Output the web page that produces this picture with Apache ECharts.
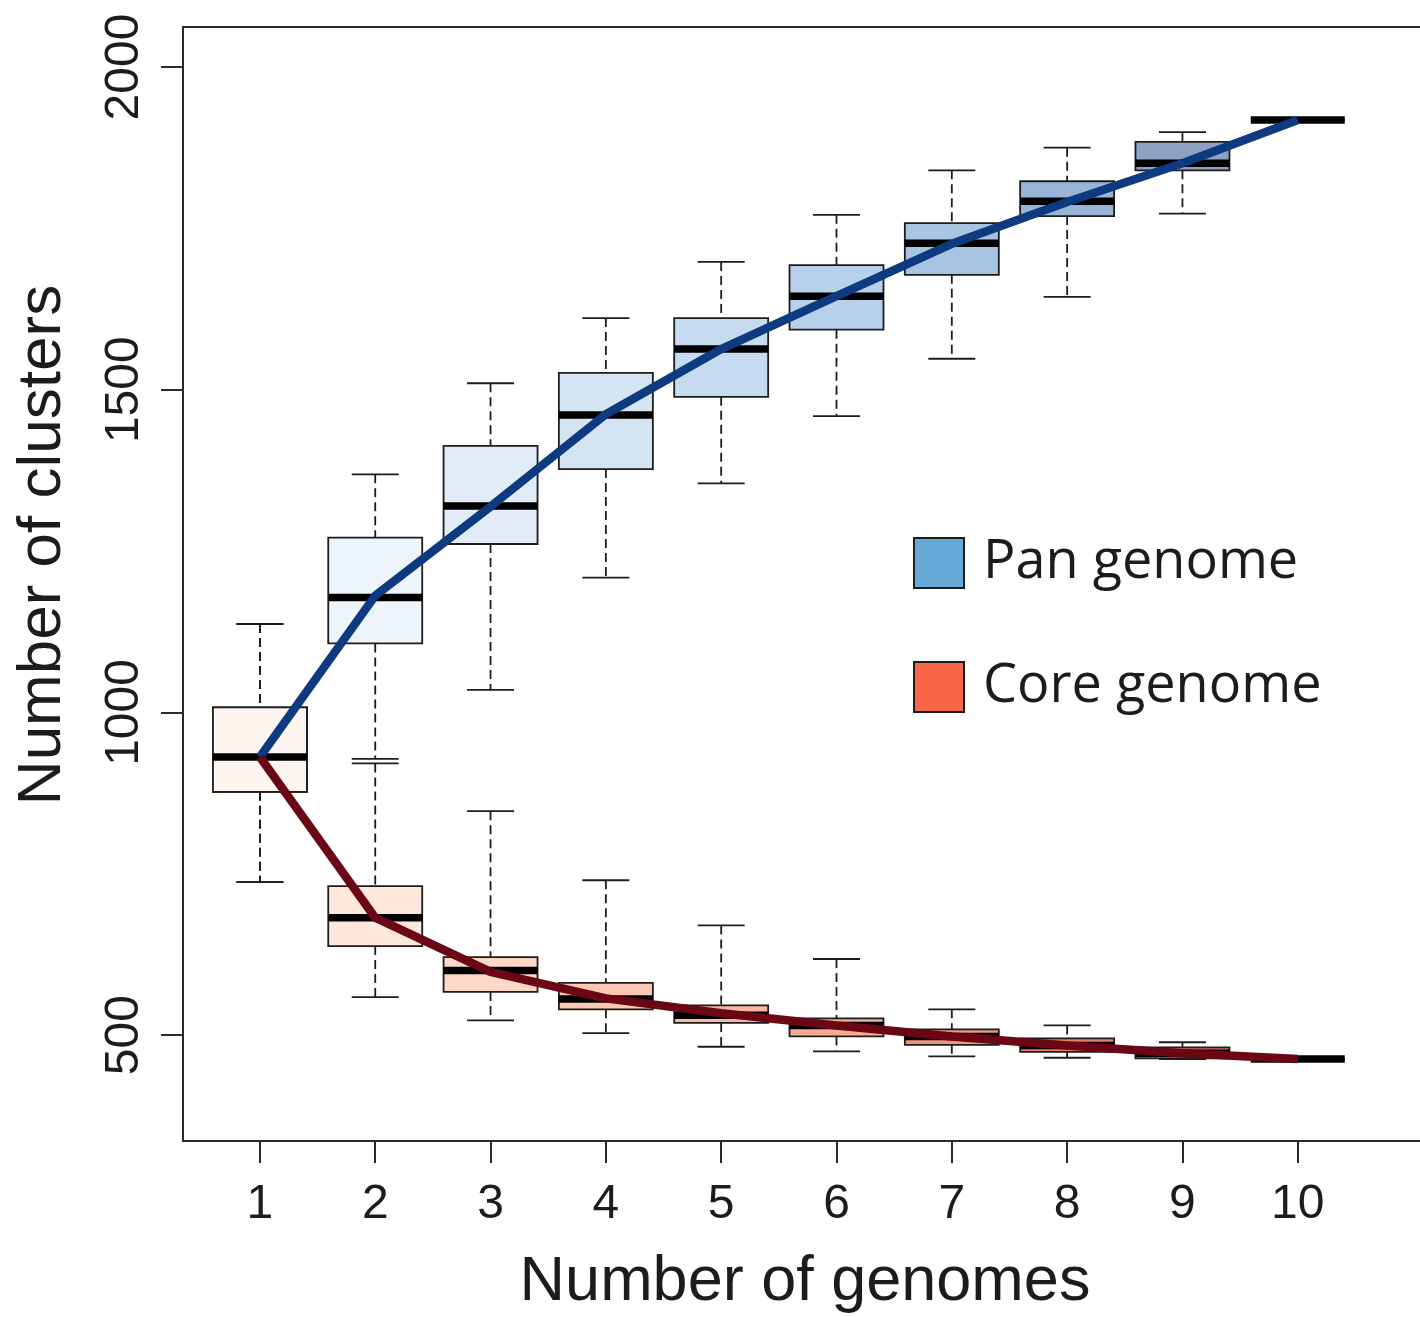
<!DOCTYPE html>
<html>
<head>
<meta charset="utf-8">
<title>Pan and core genome</title>
<script src="https://cdn.jsdelivr.net/npm/echarts@6/dist/echarts.min.js"></script>
<style>
  html, body { margin: 0; padding: 0; background: #ffffff; }
  #chart { width: 1420px; height: 1317px; }
</style>
</head>
<body>
<div id="chart"></div>
<script>
// Number of genomes sampled
const genomes = [1, 2, 3, 4, 5, 6, 7, 8, 9, 10];

// Pan genome: box-plot summaries (whisker ends, quartiles, median)
const panMin    = [737,  928, 1035, 1209, 1355, 1459, 1548, 1644, 1773, 1918];
const panQ1     = [877, 1107, 1261, 1377, 1489, 1593, 1678, 1769, 1840, 1918];
const panMedian = [931, 1178, 1320, 1461, 1563, 1645, 1727, 1792, 1851, 1918];
const panQ3     = [1008, 1271, 1413, 1526, 1611, 1693, 1758, 1823, 1884, 1918];
const panMax    = [1137, 1369, 1510, 1611, 1698, 1771, 1840, 1875, 1899, 1918];
const panMean   = [931, 1181, 1319, 1462, 1563, 1645, 1726, 1791, 1851, 1918];

// Core genome: box-plot summaries
const coreMin    = [737, 559, 523, 503, 482, 475, 467, 465, 463, 463];
const coreQ1     = [877, 638, 567, 540, 519, 498, 485, 474, 464, 463];
const coreMedian = [931, 682, 600, 556, 531, 515, 498, 484, 472, 463];
const coreQ3     = [1008, 731, 621, 581, 546, 526, 509, 495, 481, 463];
const coreMax    = [1137, 921, 847, 740, 670, 618, 540, 515, 489, 463];
const coreMean   = [931, 682, 598, 557, 534, 515, 498, 484, 472, 463];

// Axis tick values
const xTicks = [1, 2, 3, 4, 5, 6, 7, 8, 9, 10];
const yTicks = [500, 1000, 1500, 2000];

// Box fill ramps
const panFills  = ['#fff5f0', '#eef4fb', '#e1ecf7', '#d4e4f3', '#c6dbef',
                   '#b6d1e9', '#a7c5e2', '#98b4d6', '#8ea1c2', '#8390b0'];
const coreFills = ['#fff5f0', '#fee8de', '#fdd7c7', '#fcc7b3', '#f9b8a2',
                   '#f6aa93', '#ef9580', '#e47f6a', '#d66b58', '#c45848'];

const TEXT_FONT = '"Liberation Sans", Arial, Helvetica, sans-serif';
const LEGEND_FONT = '"Open Sans", "Noto Sans", sans-serif';
const INK = '#1c1c1c';
const FRAME = '#2a2a2a';

function boxRows(mins, q1s, meds, q3s, maxs) {
  return genomes.map((g, i) => [g, mins[i], q1s[i], meds[i], q3s[i], maxs[i]]);
}

// Draws an R-style box: dashed whiskers with caps, outlined box, heavy median bar
function boxRenderer(fills) {
  return function (params, api) {
    const x = api.value(0);
    const pMin = api.coord([x, api.value(1)]);
    const pQ1  = api.coord([x, api.value(2)]);
    const pMed = api.coord([x, api.value(3)]);
    const pQ3  = api.coord([x, api.value(4)]);
    const pMax = api.coord([x, api.value(5)]);
    const unit = api.size([1, 0])[0];
    const bw = unit * 0.815;
    const cw = bw / 2;
    const cx = pMed[0];
    const thin = { stroke: INK, lineWidth: 1.8 };
    const dashed = { stroke: INK, lineWidth: 1.8, lineDash: [9, 5] };
    return {
      type: 'group',
      children: [
        { type: 'line', shape: { x1: cx, y1: pMax[1], x2: cx, y2: pQ3[1] }, style: dashed },
        { type: 'line', shape: { x1: cx, y1: pQ1[1], x2: cx, y2: pMin[1] }, style: dashed },
        { type: 'line', shape: { x1: cx - cw / 2, y1: pMax[1], x2: cx + cw / 2, y2: pMax[1] }, style: thin },
        { type: 'line', shape: { x1: cx - cw / 2, y1: pMin[1], x2: cx + cw / 2, y2: pMin[1] }, style: thin },
        { type: 'rect',
          shape: { x: cx - bw / 2, y: pQ3[1], width: bw, height: pQ1[1] - pQ3[1] },
          style: { fill: fills[params.dataIndex], stroke: INK, lineWidth: 1.8 } },
        { type: 'line', shape: { x1: cx - bw / 2, y1: pMed[1], x2: cx + bw / 2, y2: pMed[1] },
          style: { stroke: '#000000', lineWidth: 7.5 } }
      ]
    };
  };
}

const chart = echarts.init(document.getElementById('chart'), null, { renderer: 'canvas' });

chart.setOption({
  animation: false,
  backgroundColor: '#ffffff',
  grid: { left: 183, top: 27, right: 0, bottom: 176, show: false },
  xAxis: [
    {
      type: 'value', position: 'bottom',
      min: 0.333, max: 11.06,
      splitLine: { show: false },
      axisLine: { show: true, lineStyle: { color: FRAME, width: 2 } },
      axisTick: { show: true, length: 22, customValues: xTicks, lineStyle: { color: FRAME, width: 2 } },
      axisLabel: {
        customValues: xTicks, margin: 40,
        formatter: v => String(v),
        fontFamily: TEXT_FONT, fontSize: 48, color: INK
      }
    },
    {
      // top edge of the plot frame
      type: 'value', position: 'top',
      min: 0.333, max: 11.06,
      splitLine: { show: false },
      axisLine: { show: true, lineStyle: { color: FRAME, width: 2 } },
      axisTick: { show: false },
      axisLabel: { show: false }
    }
  ],
  yAxis: {
    type: 'value',
    min: 336, max: 2062,
    splitLine: { show: false },
    axisLine: { show: true, lineStyle: { color: FRAME, width: 2 } },
    axisTick: { show: true, length: 22, customValues: yTicks, lineStyle: { color: FRAME, width: 2 } },
    axisLabel: {
      customValues: yTicks, rotate: 90, margin: 34,
      formatter: v => String(v),
      fontFamily: TEXT_FONT, fontSize: 48, color: INK
    }
  },
  legend: {
    orient: 'vertical',
    left: 908, top: 531,
    itemWidth: 50, itemHeight: 50, itemGap: 70,
    selectedMode: false,
    icon: 'rect',
    textStyle: { fontFamily: LEGEND_FONT, fontSize: 54, color: INK, lineHeight: 50, padding: [0, 0, 0, 14] },
    data: [
      { name: 'Pan genome', itemStyle: { color: '#64a8d6', borderColor: INK, borderWidth: 2 } },
      { name: 'Core genome', itemStyle: { color: '#f8664a', borderColor: INK, borderWidth: 2 } }
    ]
  },
  graphic: [
    {
      type: 'text', x: 43, y: 545, rotation: Math.PI / 2,
      style: { text: 'Number of clusters', font: '62px ' + TEXT_FONT, fill: INK,
               textAlign: 'center', textVerticalAlign: 'middle' }
    },
    {
      type: 'text', x: 805, y: 1283,
      style: { text: 'Number of genomes', font: '63px ' + TEXT_FONT, fill: INK,
               textAlign: 'center', textVerticalAlign: 'middle' }
    }
  ],
  series: [
    {
      name: 'Pan genome', type: 'custom', z: 2,
      encode: { x: 0, y: [1, 2, 3, 4, 5] },
      renderItem: boxRenderer(panFills),
      itemStyle: { color: '#64a8d6' },
      data: boxRows(panMin, panQ1, panMedian, panQ3, panMax)
    },
    {
      name: 'Core genome', type: 'custom', z: 3,
      encode: { x: 0, y: [1, 2, 3, 4, 5] },
      renderItem: boxRenderer(coreFills),
      itemStyle: { color: '#f8664a' },
      data: boxRows(coreMin, coreQ1, coreMedian, coreQ3, coreMax)
    },
    {
      name: 'Pan mean', type: 'line', z: 5,
      symbol: 'none', smooth: false,
      lineStyle: { color: '#0d3a80', width: 8.5 },
      data: genomes.map((g, i) => [g, panMean[i]])
    },
    {
      name: 'Core mean', type: 'line', z: 6,
      symbol: 'none', smooth: false,
      lineStyle: { color: '#6b0615', width: 8.5 },
      data: genomes.map((g, i) => [g, coreMean[i]])
    }
  ]
});
</script>
</body>
</html>
